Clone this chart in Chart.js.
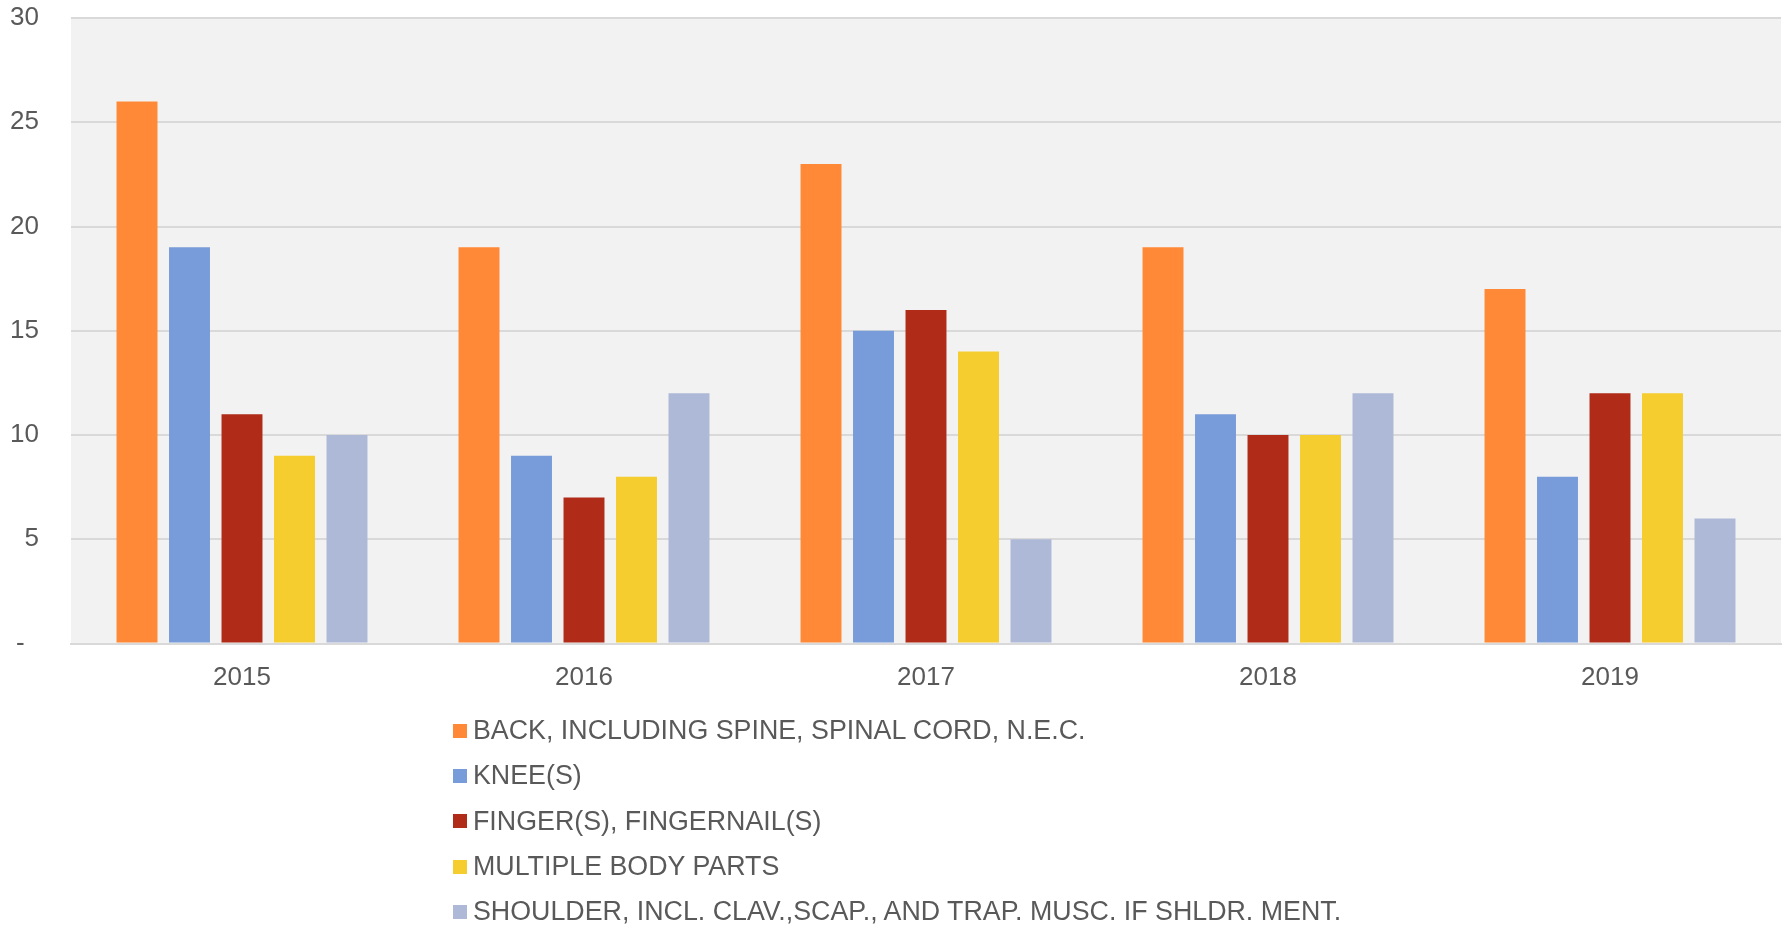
<!DOCTYPE html>
<html>
<head>
<meta charset="utf-8">
<script src="https://cdn.jsdelivr.net/npm/chart.js@4/dist/chart.umd.min.js"></script>
<style>
  html, body { margin:0; padding:0; background:#ffffff; }
  #wrap { position:relative; width:1785px; height:928px; }
  #c { position:absolute; left:0; top:0; }
  #legend { position:absolute; left:453px; top:708px; font-family: Arial, "Liberation Sans", sans-serif; font-size:26.8px; color:#595959; }
  .row { height:45.3px; line-height:45.3px; white-space:nowrap; display:flex; align-items:center; }
  .sw { width:14px; height:14px; margin-right:6px; flex:none; }
</style>
</head>
<body>
<div id="wrap">
  <canvas id="c" width="1785" height="928"></canvas>
  <div id="legend"></div>
</div>
<script>
const categories = ["2015", "2016", "2017", "2018", "2019"];
const seriesNames = [
  "BACK, INCLUDING SPINE, SPINAL CORD, N.E.C.",
  "KNEE(S)",
  "FINGER(S), FINGERNAIL(S)",
  "MULTIPLE BODY PARTS",
  "SHOULDER, INCL. CLAV.,SCAP., AND TRAP. MUSC. IF SHLDR. MENT."
];
const backValues = [26, 19, 23, 19, 17];
const kneeValues = [19, 9, 15, 11, 8];
const fingerValues = [11, 7, 16, 10, 12];
const multipleValues = [9, 8, 14, 10, 12];
const shoulderValues = [10, 12, 5, 12, 6];
const yTicks = [0, 5, 10, 15, 20, 25, 30];
const colors = ["#FF8936", "#789BD9", "#B02B18", "#F5CD2E", "#ADB9D7"];

const seriesValues = [backValues, kneeValues, fingerValues, multipleValues, shoulderValues];
const FONT = 'Arial, "Liberation Sans", sans-serif';

const plotBg = {
  id: 'plotBg',
  beforeDraw(chart) {
    const {ctx, chartArea: a} = chart;
    ctx.save();
    ctx.fillStyle = '#F2F2F2';
    ctx.fillRect(a.left, a.top, a.right - a.left, a.bottom - a.top);
    ctx.restore();
  }
};

new Chart(document.getElementById('c'), {
  type: 'bar',
  data: {
    labels: categories,
    datasets: seriesNames.map((n, i) => ({
      label: n,
      data: seriesValues[i],
      backgroundColor: colors[i],
      borderWidth: 0,
      categoryPercentage: 0.7675,
      barPercentage: 0.78
    }))
  },
  options: {
    responsive: false,
    animation: false,
    devicePixelRatio: 1,
    layout: { autoPadding: false, padding: { top: 18, right: 4, left: 0, bottom: 219.5 } },
    plugins: { legend: { display: false }, tooltip: { enabled: false } },
    scales: {
      x: {
        afterFit(scale) { scale.height = 65; scale.paddingLeft = 0; scale.paddingRight = 0; },
        grid: { display: false, drawTicks: false },
        border: { display: true, color: '#D9D9D9', width: 2 },
        ticks: { color: '#595959', font: { family: FONT, size: 26 }, padding: 19 }
      },
      y: {
        min: 0, max: 30,
        afterBuildTicks(scale) { scale.ticks = yTicks.map(v => ({ value: v })); },
        afterFit(scale) { scale.width = 71; scale.paddingTop = 0; scale.paddingBottom = 0; },
        grid: { color: '#D9D9D9', lineWidth: 2, drawTicks: false },
        border: { display: false },
        ticks: {
          color: '#595959', font: { family: FONT, size: 26 }, padding: 32,
          callback: (v) => v === 0 ? '-  ' : String(v)
        }
      }
    }
  },
  plugins: [plotBg]
});

const lg = document.getElementById('legend');
seriesNames.forEach((n, i) => {
  const row = document.createElement('div');
  row.className = 'row';
  const sw = document.createElement('span');
  sw.className = 'sw';
  sw.style.background = colors[i];
  const t = document.createElement('span');
  t.textContent = n;
  row.appendChild(sw); row.appendChild(t);
  lg.appendChild(row);
});
</script>
</body>
</html>
